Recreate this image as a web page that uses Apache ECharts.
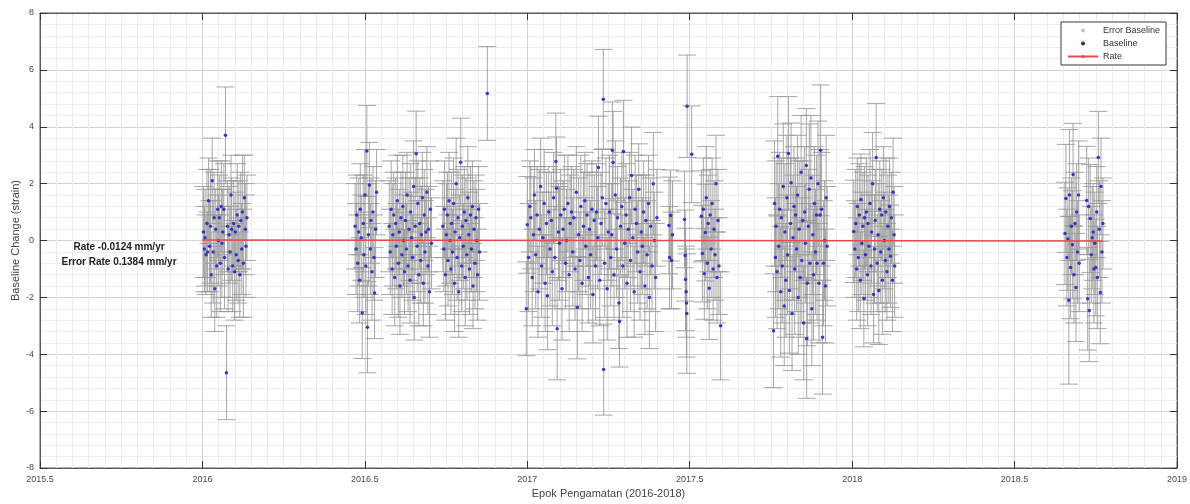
<!DOCTYPE html>
<html>
<head>
<meta charset="utf-8">
<script src="https://cdn.jsdelivr.net/npm/echarts/dist/echarts.min.js"></script>
<style>html,body{margin:0;padding:0;background:#fff;overflow:hidden}#chart{width:1190px;height:504px}</style>
</head>
<body>
<div id="chart"></div>
<script>
// ---------- DATA ----------
const epochs = [
  // Jan-Feb 2016
  2016.003,2016.006,2016.008,2016.011,2016.014,2016.016,2016.019,2016.022,2016.025,2016.027,
  2016.030,2016.033,2016.036,2016.038,2016.041,2016.044,2016.047,2016.049,2016.052,2016.055,
  2016.058,2016.060,2016.063,2016.066,2016.068,2016.071,2016.074,2016.077,2016.079,2016.082,
  2016.085,2016.088,2016.090,2016.093,2016.096,2016.099,2016.101,2016.104,2016.107,2016.110,
  2016.112,2016.115,2016.118,2016.121,2016.123,2016.126,2016.129,2016.132,2016.134,2016.137,
  // Jun-Jul 2016
  2016.470,2016.473,2016.475,2016.478,2016.481,2016.484,2016.486,2016.489,2016.492,2016.495,
  2016.497,2016.500,2016.503,2016.506,2016.508,2016.511,2016.514,2016.517,2016.519,2016.522,
  2016.525,2016.528,2016.530,2016.533,2016.536,
  // Jul-Sep 2016
  2016.575,2016.578,2016.581,2016.584,2016.586,2016.589,2016.592,2016.595,2016.597,2016.600,
  2016.603,2016.606,2016.608,2016.611,2016.614,2016.617,2016.619,2016.622,2016.625,2016.628,
  2016.630,2016.633,2016.636,2016.639,2016.641,2016.644,2016.647,2016.650,2016.652,2016.655,
  2016.658,2016.661,2016.663,2016.666,2016.669,2016.672,2016.674,2016.677,2016.680,2016.683,
  2016.685,2016.688,2016.691,2016.694,2016.696,2016.699,2016.702,2016.705,
  // Sep-Nov 2016
  2016.740,2016.743,2016.745,2016.748,2016.751,2016.754,2016.756,2016.759,2016.762,2016.765,
  2016.767,2016.770,2016.773,2016.776,2016.778,2016.781,2016.784,2016.787,2016.789,2016.792,
  2016.795,2016.798,2016.800,2016.803,2016.806,2016.809,2016.811,2016.814,2016.817,2016.820,
  2016.822,2016.825,2016.828,2016.831,2016.833,2016.836,2016.839,2016.842,2016.844,2016.847,
  2016.850,2016.853,2016.877,
  // Jan-Jun 2017
  2016.997,2017.000,2017.004,2017.008,2017.011,2017.015,2017.019,2017.022,2017.026,2017.030,
  2017.033,2017.037,2017.041,2017.044,2017.048,2017.052,2017.055,2017.059,2017.062,2017.066,
  2017.070,2017.074,2017.077,2017.081,2017.085,2017.088,2017.090,2017.092,2017.096,2017.099,
  2017.103,2017.107,2017.110,2017.114,2017.118,2017.121,2017.125,2017.129,2017.132,2017.136,
  2017.140,2017.143,2017.147,2017.151,2017.154,2017.158,2017.162,2017.165,2017.169,2017.173,
  2017.177,2017.180,2017.184,2017.188,2017.191,2017.195,2017.199,2017.202,2017.206,2017.210,
  2017.213,2017.217,2017.219,2017.223,2017.227,2017.231,2017.234,2017.235,2017.238,2017.242,
  2017.246,2017.249,2017.253,2017.257,2017.260,2017.262,2017.264,2017.267,2017.271,2017.275,
  2017.278,2017.282,2017.284,2017.287,2017.291,2017.294,2017.296,2017.300,2017.304,2017.307,
  2017.311,2017.315,2017.318,2017.321,2017.325,2017.329,2017.332,2017.336,2017.340,2017.343,
  2017.347,2017.351,2017.354,2017.358,2017.362,2017.365,2017.369,2017.373,2017.376,2017.380,
  2017.384,2017.388,2017.391,2017.395,2017.399,2017.436,2017.438,2017.441,2017.444,2017.447,
  // Jun-Aug 2017
  2017.484,2017.486,2017.487,2017.489,2017.490,2017.491,2017.492,2017.506,2017.536,2017.539,
  2017.542,2017.545,2017.548,2017.551,2017.554,2017.557,2017.560,2017.563,2017.566,2017.569,
  2017.572,2017.575,2017.578,2017.581,2017.584,2017.587,2017.590,2017.595,
  // Oct-Dec 2017
  2017.758,2017.761,2017.764,2017.766,2017.769,2017.771,2017.774,2017.777,2017.780,2017.782,
  2017.785,2017.788,2017.791,2017.793,2017.796,2017.799,2017.801,2017.804,2017.807,2017.810,
  2017.812,2017.815,2017.818,2017.821,2017.823,2017.826,2017.829,2017.832,2017.834,2017.837,
  2017.840,2017.843,2017.845,2017.848,2017.851,2017.854,2017.856,2017.859,2017.860,2017.862,
  2017.865,2017.868,2017.870,2017.873,2017.876,2017.879,2017.881,2017.884,2017.887,2017.890,
  2017.892,2017.895,2017.898,2017.901,2017.903,2017.906,2017.909,2017.912,2017.915,2017.918,
  2017.920,2017.923,
  // Jan-Feb 2018
  2018.005,2018.008,2018.011,2018.014,2018.016,2018.019,2018.022,2018.025,2018.027,2018.030,
  2018.033,2018.036,2018.038,2018.041,2018.044,2018.047,2018.049,2018.052,2018.055,2018.058,
  2018.060,2018.063,2018.066,2018.069,2018.071,2018.074,2018.077,2018.080,2018.082,2018.085,
  2018.088,2018.091,2018.093,2018.096,2018.099,2018.102,2018.104,2018.107,2018.110,2018.113,
  2018.115,2018.118,2018.121,2018.124,2018.126,2018.129,2018.131,
  // Aug-Oct 2018
  2018.655,2018.658,2018.661,2018.664,2018.667,2018.669,2018.672,2018.675,2018.678,2018.680,
  2018.683,2018.686,2018.689,2018.691,2018.694,2018.697,2018.699,2018.722,2018.725,2018.728,
  2018.730,2018.733,2018.736,2018.739,2018.742,2018.744,2018.747,2018.750,2018.753,2018.755,
  2018.758,2018.761,2018.764,2018.766,2018.769,2018.772
];

const baseline = [
  0.3,-0.3,0.1,-0.5,0.6,-0.4,1.4,-0.2,0.5,-1.2,
  2.1,-0.4,0.8,-1.7,0.4,-0.9,1.1,0.0,0.8,-0.8,
  1.2,-0.1,0.3,1.1,-0.6,3.7,-4.65,0.5,-1.0,0.2,
  -0.4,1.6,0.4,-0.9,0.6,-1.1,0.3,-0.5,0.9,-0.7,
  0.5,-1.2,0.7,-0.3,1.0,-0.8,1.5,0.4,-0.2,0.8,
  0.5,-0.3,0.9,-0.8,0.3,-1.4,1.1,0.1,-2.55,0.6,
  -0.5,1.6,-0.9,3.15,-3.05,0.2,1.95,-0.3,0.7,-1.1,
  1.0,-0.6,-1.85,0.4,1.7,
  0.5,-0.4,1.1,-1.0,0.2,0.9,-1.3,0.6,-0.2,1.4,
  -0.8,0.3,-1.6,0.8,-0.5,1.2,0.0,-1.1,0.7,-0.3,
  1.6,-0.9,0.4,-1.4,1.0,0.1,-0.6,1.9,-2.0,0.5,
  3.05,-0.2,1.3,-1.2,0.6,-0.7,0.2,1.5,-1.5,0.9,
  -0.4,0.3,1.7,-0.9,0.4,-1.8,1.1,-0.1,
  0.5,-0.3,1.1,-1.2,0.2,0.9,-0.7,1.4,0.0,-1.0,
  0.6,-0.4,1.3,-1.5,0.3,2.0,-0.6,0.8,-1.8,0.1,
  2.75,-0.9,0.5,-0.2,1.0,-1.3,0.7,-0.5,1.5,0.2,
  -1.0,0.9,-0.3,1.2,-1.6,0.4,-0.8,0.8,0.0,-1.2,
  1.1,-0.4,5.17,
  -2.40,0.55,-0.60,1.20,0.80,-1.30,0.20,1.60,-0.50,0.90,
  -1.80,0.40,1.90,-0.90,0.10,1.30,-1.50,0.60,-1.94,1.00,
  -0.30,0.70,-1.10,1.50,-0.60,2.78,1.84,-3.10,0.30,-0.10,
  0.90,-1.70,0.40,1.10,-0.80,0.00,1.30,-1.20,0.60,1.00,
  -0.40,0.80,-1.00,1.70,-2.36,0.20,-0.70,1.20,-1.50,0.50,
  1.40,-0.20,0.90,-1.30,0.40,-0.50,1.10,-1.90,0.70,-0.90,
  1.00,0.10,2.57,-1.40,0.60,1.50,4.97,-4.54,-0.80,1.30,
  -1.70,0.30,1.00,-0.60,0.20,3.17,2.74,-1.20,1.60,-0.30,
  0.80,-2.20,-2.85,0.50,1.20,-0.90,3.13,-0.10,0.90,-1.50,
  0.40,1.50,-0.70,2.29,0.10,-1.80,1.10,0.60,-0.40,1.80,
  -1.10,0.30,-0.20,1.00,-1.60,0.70,-0.50,1.30,-2.00,0.50,
  -0.90,2.00,0.00,-1.30,0.80,0.53,-0.60,0.88,-0.70,0.20,
  0.74,-0.53,-1.37,-1.80,-2.20,-2.57,4.72,3.03,0.85,-0.46,
  1.10,-1.17,0.28,1.50,-0.80,0.60,-1.68,0.90,-0.30,1.30,
  -1.00,0.40,-0.50,2.00,-1.30,0.70,-0.90,-3.00,
  -3.17,1.30,-0.60,0.50,-1.10,2.96,-0.20,1.10,-1.80,0.80,
  -0.90,1.90,-2.30,0.30,-1.40,1.50,-0.50,3.06,-1.76,0.60,
  2.03,-2.57,0.10,1.20,-1.00,0.90,-0.30,1.60,-2.00,0.40,
  -1.30,2.40,-0.70,0.70,-2.90,1.00,-0.10,2.64,-3.45,-1.50,
  0.50,1.80,-0.80,2.20,-2.40,0.20,-1.20,1.30,-0.40,0.90,
  -0.80,2.00,-1.50,0.90,3.17,1.10,-3.40,-0.80,0.00,-1.60,
  1.50,-0.20,
  0.32,-0.30,0.60,-1.00,1.20,-0.60,0.90,-1.40,1.44,-0.10,
  0.50,-2.04,0.80,-0.50,1.00,-1.20,0.60,-0.20,1.30,-0.90,
  0.30,2.00,-1.90,-0.30,0.70,2.92,-0.80,0.20,-1.76,1.10,
  -0.40,0.90,-1.40,1.50,0.00,-0.70,1.00,-1.10,0.50,-0.30,
  1.20,-0.55,0.80,-1.40,1.70,0.20,-0.90,
  0.25,1.48,-0.60,0.05,-2.10,1.60,-0.95,0.50,-0.15,2.32,
  -1.20,0.60,-1.65,1.00,-0.40,1.60,-0.80,1.41,-2.05,1.20,
  -2.46,0.77,-0.50,0.10,0.30,-1.00,-0.10,-0.95,1.00,-1.30,
  2.92,0.40,-1.83,1.90,-0.40,0.60
];

const errorBaseline = [
  1.6,1.5,1.7,1.4,1.9,1.4,1.5,1.6,2.0,1.5,
  1.5,1.8,1.6,1.5,1.4,1.8,1.7,1.6,1.5,1.7,
  1.6,1.9,1.5,1.6,1.8,1.7,1.65,1.6,1.5,1.7,
  1.6,1.4,1.8,1.6,1.5,1.7,1.4,1.6,1.8,1.5,
  1.6,1.5,1.7,1.6,2.0,1.9,1.5,1.6,1.8,1.5,
  1.5,1.6,1.4,1.7,1.9,1.5,1.6,1.5,1.6,1.7,
  1.5,1.6,1.7,1.6,1.6,1.8,1.5,1.6,1.5,1.7,
  1.6,1.5,1.6,1.7,1.5,
  1.6,1.5,1.7,1.6,1.8,1.5,1.7,1.6,1.5,1.6,
  1.9,1.5,1.7,1.6,1.5,1.8,1.6,1.5,1.7,1.6,
  1.5,1.6,1.8,1.5,1.7,1.6,1.5,1.6,1.5,1.7,
  1.5,1.6,1.5,1.8,1.6,1.5,1.7,1.6,1.5,1.6,
  1.8,1.5,1.6,1.7,1.5,1.6,1.7,1.6,
  1.6,1.5,1.7,1.6,1.8,1.5,1.6,1.7,1.5,1.6,
  1.8,1.5,1.6,1.7,1.5,1.6,1.5,1.7,1.6,1.5,
  1.55,1.6,1.8,1.5,1.6,1.7,1.5,1.6,1.8,1.5,
  1.6,1.7,1.5,1.6,1.5,1.7,1.6,1.5,1.8,1.6,
  1.5,1.7,1.65,
  1.65,1.70,1.90,1.60,1.80,1.70,2.00,1.60,1.90,1.70,
  1.60,2.10,1.70,1.80,1.60,1.90,1.70,1.80,1.90,1.60,
  2.00,1.70,1.90,1.60,1.80,1.70,1.80,1.80,1.70,2.00,
  1.60,1.80,1.70,1.90,1.60,1.80,1.70,2.00,1.70,1.60,
  1.90,1.70,1.80,1.60,1.80,2.00,1.70,1.80,1.70,1.90,
  1.70,1.70,1.80,1.60,2.00,1.90,1.70,1.70,1.60,1.90,
  1.70,1.80,1.80,1.60,1.80,1.70,1.75,1.60,1.90,1.60,
  1.80,1.70,2.00,1.70,1.80,1.70,1.80,1.60,1.90,1.70,
  1.80,1.60,1.60,1.70,1.90,1.80,1.80,1.60,1.80,1.90,
  1.70,1.60,1.80,1.70,1.70,1.60,1.90,1.70,1.80,1.60,
  1.70,2.00,1.70,1.80,1.70,1.60,1.90,1.70,1.80,1.70,
  1.60,1.80,1.70,1.90,1.70,1.70,1.80,1.60,1.70,1.90,
  1.70,1.60,1.80,1.60,1.90,2.10,1.80,1.70,1.60,1.70,
  1.80,1.60,1.70,1.80,1.60,1.70,1.80,1.60,1.70,1.60,
  1.80,1.70,1.60,1.70,1.60,1.80,1.70,1.90,
  2.00,2.20,2.10,2.30,2.00,2.10,2.20,2.00,2.30,2.10,
  2.00,2.20,2.10,2.40,2.00,2.20,2.10,2.00,2.20,2.30,
  2.10,2.00,2.20,2.10,2.30,2.00,2.20,2.10,2.00,2.40,
  2.10,2.00,2.20,2.10,2.00,2.30,2.10,2.00,2.10,2.20,
  2.00,2.30,2.10,2.20,2.00,2.10,2.30,2.00,2.20,2.10,
  2.00,2.20,2.10,2.30,2.30,2.00,2.00,2.20,2.10,2.00,
  2.20,2.10,
  1.80,1.70,1.90,1.80,1.70,1.90,1.80,1.70,1.60,1.80,
  1.90,1.70,1.80,1.60,1.90,1.80,1.70,1.80,1.90,1.70,
  1.80,1.80,1.70,1.90,1.80,1.90,1.70,1.80,1.90,1.70,
  1.80,1.60,1.90,1.80,1.70,1.80,1.90,1.70,1.80,1.90,
  1.70,1.80,1.60,1.80,1.90,1.70,1.80,
  1.80,1.90,1.70,1.80,2.95,2.30,1.80,1.70,1.90,1.80,
  1.70,1.80,1.90,1.70,1.80,1.90,1.70,1.90,1.80,1.70,
  1.80,1.90,1.70,1.80,1.70,1.90,1.80,1.70,1.60,1.80,
  1.62,1.70,1.80,1.70,1.80,1.60
];

const rateEpochs = [2016.0, 2018.772];
const rateValues = [0.02, -0.015];

const xTickLabels = ['2015.5','2016','2016.5','2017','2017.5','2018','2018.5','2019'];
const yTickLabels = ['-8','-6','-4','-2','0','2','4','6','8'];
const annotationLines = ['Rate -0.0124 mm/yr', 'Error Rate 0.1384 mm/yr'];
const legendNames = ['Error Baseline', 'Baseline', 'Rate'];
const axisTitles = { x: 'Epok Pengamatan (2016-2018)', y: 'Baseline Change (strain)' };

// ---------- CHART ----------
const n = Math.min(epochs.length, baseline.length, errorBaseline.length);
const errData = [], ptData = [];
for (let i = 0; i < n; i++) {
  errData.push([epochs[i], baseline[i], errorBaseline[i]]);
  ptData.push([epochs[i], baseline[i]]);
}
const rateData = rateEpochs.map((x, i) => [x, rateValues[i]]);

const FONT = 'Liberation Sans, Arial, Helvetica, sans-serif';
const chart = echarts.init(document.getElementById('chart'), null, { renderer: 'canvas', width: 1190, height: 504 });

const baseX = { type: 'value', min: 2015.5, max: 2019, interval: 0.5 };
const baseY = { type: 'value', min: -8, max: 8, interval: 2 };
const frameLine = { show: true, onZero: false, lineStyle: { color: '#5a5a5a', width: 1 } };
const inTicks = { show: true, inside: true, length: 7, lineStyle: { color: '#333' } };

chart.setOption({
  animation: false,
  backgroundColor: '#ffffff',
  grid: {
    left: 40, right: 13, top: 13, bottom: 36,
    containLabel: false, outerBoundsMode: 'none',
    show: true, borderColor: '#5a5a5a', borderWidth: 1, backgroundColor: '#ffffff'
  },
  legend: {
    orient: 'vertical', left: 1061, top: 22,
    backgroundColor: '#ffffff', borderColor: '#3a3a3a', borderWidth: 1,
    padding: [4, 6, 4, 6], itemGap: 4, itemWidth: 30, itemHeight: 4,
    textStyle: { fontFamily: FONT, fontSize: 9, color: '#333' },
    data: [
      { name: legendNames[0], icon: 'circle', itemStyle: { color: '#c4c4c4' } },
      { name: legendNames[1], icon: 'circle', itemStyle: { color: '#20206a' } },
      { name: legendNames[2] }
    ]
  },
  xAxis: [
    Object.assign({}, baseX, {
      position: 'bottom',
      name: axisTitles.x, nameLocation: 'middle', nameGap: 20, nameMoveOverlap: false,
      nameTextStyle: { fontFamily: FONT, fontSize: 11, color: '#444' },
      axisLine: frameLine, axisTick: inTicks,
      axisLabel: { fontFamily: FONT, fontSize: 9, color: '#4a4a4a', margin: 7,
        formatter: (v, i) => xTickLabels[i] !== undefined ? xTickLabels[i] : String(v) },
      splitLine: { show: true, lineStyle: { color: '#d3d3d3', width: 1 } },
      minorTick: { show: false, splitNumber: 10 },
      minorSplitLine: { show: true, lineStyle: { color: '#ececec', width: 1 } }
    }),
    Object.assign({}, baseX, {
      position: 'top',
      axisLine: frameLine, axisTick: inTicks,
      axisLabel: { show: false }, splitLine: { show: false }
    })
  ],
  yAxis: [
    Object.assign({}, baseY, {
      position: 'left',
      name: axisTitles.y, nameLocation: 'middle', nameGap: 19, nameRotate: 90, nameMoveOverlap: false,
      nameTextStyle: { fontFamily: FONT, fontSize: 11, color: '#444' },
      axisLine: frameLine, axisTick: inTicks,
      axisLabel: { fontFamily: FONT, fontSize: 9, color: '#4a4a4a', margin: 6,
        formatter: (v, i) => yTickLabels[i] !== undefined ? yTickLabels[i] : String(v) },
      splitLine: { show: true, lineStyle: { color: '#d3d3d3', width: 1 } },
      minorTick: { show: false, splitNumber: 5 },
      minorSplitLine: { show: true, lineStyle: { color: '#ececec', width: 1 } }
    }),
    Object.assign({}, baseY, {
      position: 'right',
      axisLine: frameLine, axisTick: inTicks,
      axisLabel: { show: false }, splitLine: { show: false }
    })
  ],
  series: [
    {
      name: legendNames[0], type: 'custom', xAxisIndex: 0, yAxisIndex: 0, z: 2,
      itemStyle: { color: '#c4c4c4' },
      encode: { x: 0, y: 1 },
      data: errData,
      renderItem: function (params, api) {
        const x = api.value(0), y = api.value(1), e = api.value(2);
        const hi = api.coord([x, y + e]);
        const lo = api.coord([x, y - e]);
        const h = 9;
        const st = { stroke: '#969696', lineWidth: 1, opacity: 0.85 };
        return {
          type: 'group',
          children: [
            { type: 'line', shape: { x1: hi[0], y1: hi[1], x2: lo[0], y2: lo[1] }, style: st },
            { type: 'line', shape: { x1: hi[0] - h, y1: hi[1], x2: hi[0] + h, y2: hi[1] }, style: st },
            { type: 'line', shape: { x1: lo[0] - h, y1: lo[1], x2: lo[0] + h, y2: lo[1] }, style: st }
          ]
        };
      }
    },
    {
      name: legendNames[1], type: 'scatter', z: 3,
      symbol: 'circle', symbolSize: 3.5,
      itemStyle: { color: '#2e2ec4', opacity: 0.95 },
      data: ptData
    },
    {
      name: legendNames[2], type: 'line', z: 4,
      symbol: 'none', showSymbol: false,
      lineStyle: { color: '#e5484d', width: 1.5 },
      itemStyle: { color: '#e5484d' },
      data: rateData
    }
  ],
  graphic: [
    {
      type: 'text', x: 119, y: 242, z: 10,
      style: { text: annotationLines[0], font: 'bold 10px ' + FONT, fill: '#222', textAlign: 'center' }
    },
    {
      type: 'text', x: 119, y: 257, z: 10,
      style: { text: annotationLines[1], font: 'bold 10px ' + FONT, fill: '#222', textAlign: 'center' }
    }
  ]
});
</script>
</body>
</html>
